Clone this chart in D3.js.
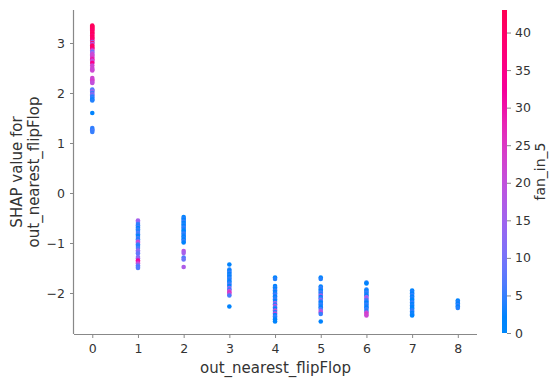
<!DOCTYPE html>
<html>
<head>
<meta charset="utf-8">
<script src="https://cdn.jsdelivr.net/npm/d3@7"></script>
<style>
  html, body { margin: 0; padding: 0; background: #fff; }
  svg { display: block; }
  text { font-family: "DejaVu Sans", sans-serif; }
</style>
</head>
<body>
<svg id="chart" width="549" height="383"></svg>
<script>
// ---- Data ----
const xTicks = [0, 1, 2, 3, 4, 5, 6, 7, 8];
const yTicks = [-2, -1, 0, 1, 2, 3];
const colorTicks = [0, 5, 10, 15, 20, 25, 30, 35, 40];

// SHAP values and fan_in_5 per feature value
const shap0 = [3.35,3.33,3.31,3.29,3.27,3.25,3.22,3.2,3.18,3.15,3.12,3.1,3.08,3.05,3.02,3.0,2.98,2.95,2.92,2.9,2.88,2.85,2.82,2.8,2.77,2.75,2.72,2.7,2.67,2.65,2.62,2.6,2.55,2.5,2.47,2.45,2.3,2.27,2.25,2.22,2.2,2.07,2.05,2.03,2.0,1.97,1.95,1.92,1.9,1.87,1.85,1.6,1.3,1.27,1.25,1.22];
const fan0  = [42,41,43,40,42,39,41,40,42,38,41,40,39,37,12,40,18,40,39,41,36,20,8,16,23,21,22,24,33,21,23,35,22,23,21,22,23,21,24,22,20,6,8,15,5,18,7,4,5,3,4,2,5,4,6,5];

const shap1 = [-0.55,-0.58,-0.62,-0.65,-0.68,-0.7,-0.73,-0.76,-0.8,-0.83,-0.86,-0.9,-0.93,-0.96,-0.98,-1.0,-1.03,-1.06,-1.1,-1.15,-1.18,-1.21,-1.28,-1.31,-1.35,-1.38,-1.41,-1.45,-1.48,-1.5];
const fan1  = [16,14,5,4,6,3,5,4,7,5,3,6,4,9,22,20,5,4,6,14,12,8,10,14,32,30,20,8,6,7];

const shap2 = [-0.48,-0.51,-0.54,-0.57,-0.6,-0.63,-0.66,-0.69,-0.72,-0.75,-0.78,-0.81,-0.84,-0.87,-0.9,-0.93,-0.96,-0.99,-1.16,-1.2,-1.29,-1.33,-1.48];
const fan2  = [3,4,3,5,2,4,3,5,4,2,3,5,4,3,4,2,5,3,18,16,7,9,17];

const shap3 = [-1.43,-1.53,-1.56,-1.59,-1.62,-1.65,-1.68,-1.71,-1.74,-1.77,-1.8,-1.83,-1.86,-1.9,-1.93,-1.96,-1.99,-2.02,-2.05,-2.27];
const fan3  = [3,4,3,5,2,4,3,5,4,3,4,6,3,14,5,20,26,22,6,3];

const shap4 = [-1.69,-1.72,-1.86,-1.89,-1.92,-1.95,-1.98,-2.01,-2.04,-2.07,-2.1,-2.13,-2.16,-2.2,-2.23,-2.26,-2.29,-2.32,-2.35,-2.38,-2.41,-2.44,-2.47,-2.5,-2.53,-2.57];
const fan4  = [3,4,3,4,2,5,3,4,6,3,4,5,3,16,4,21,5,3,19,4,22,3,5,4,3,2];

const shap5 = [-1.69,-1.72,-1.87,-1.9,-1.93,-1.96,-1.99,-2.02,-2.05,-2.08,-2.11,-2.14,-2.17,-2.2,-2.23,-2.26,-2.29,-2.32,-2.36,-2.39,-2.42,-2.57];
const fan5  = [3,4,3,5,4,3,6,4,18,3,5,14,4,3,5,4,3,6,17,20,5,3];

const shap6 = [-1.79,-1.81,-1.93,-1.96,-1.99,-2.02,-2.05,-2.08,-2.11,-2.14,-2.17,-2.2,-2.23,-2.26,-2.29,-2.32,-2.36,-2.39,-2.42,-2.45];
const fan6  = [4,3,4,3,5,4,3,14,17,6,4,3,5,4,3,5,4,21,24,22];

const shap7 = [-1.95,-1.98,-2.01,-2.04,-2.07,-2.1,-2.13,-2.16,-2.19,-2.22,-2.25,-2.28,-2.31,-2.34,-2.37,-2.4,-2.43,-2.45];
const fan7  = [3,4,2,5,3,4,3,2,5,3,4,3,2,4,5,3,4,3];

const shap8 = [-2.15,-2.18,-2.21,-2.24,-2.27,-2.3];
const fan8  = [3,4,2,5,3,4];

const shapByX = [shap0, shap1, shap2, shap3, shap4, shap5, shap6, shap7, shap8];
const fanByX  = [fan0, fan1, fan2, fan3, fan4, fan5, fan6, fan7, fan8];

const xLabel = "out_nearest_flipFlop";
const yLabel1 = "SHAP value for";
const yLabel2 = "out_nearest_flipFlop";
const colorLabel = "fan_in_5";

(function () {
// ---- Build point table ----
const points = [];
xTicks.forEach((xv, i) => {
  shapByX[i].forEach((s, j) => points.push({ x: xv, y: s, c: fanByX[i][j] }));
});

// ---- Layout ----
const svg = d3.select("#chart");
const pLeft = 74, pRight = 477, pTop = 10, pBottom = 334;

const x = d3.scaleLinear().domain([-0.4, 8.42]).range([pLeft, pRight]);
const y = d3.scaleLinear().domain([-2.82, 3.66]).range([pBottom, pTop]);

// SHAP-like red_blue colormap (constant lightness, hue sweep in HCL)
const colorInterp = d3.interpolateHcl(d3.hcl(267, 70, 54), d3.hcl(380, 90, 54));
const cScale = d3.scaleLinear().domain([0, 43]).range([0, 1]).clamp(true);
const color = v => colorInterp(cScale(v));

const tickColor = "#333";
const spineColor = "#888";
const tickFont = "12.5px";

// ---- Points ----
svg.append("g").selectAll("circle").data(points).join("circle")
  .attr("cx", d => x(d.x))
  .attr("cy", d => y(d.y))
  .attr("r", 2.3)
  .attr("fill", d => color(d.c));

// ---- Axes ----
const xAxis = svg.append("g").attr("transform", `translate(0,${pBottom})`)
  .call(d3.axisBottom(x).tickValues(xTicks).tickSize(4).tickPadding(6).tickFormat(d3.format("d")));
const yAxis = svg.append("g").attr("transform", `translate(${pLeft},0)`)
  .call(d3.axisLeft(y).tickValues(yTicks).tickSize(4).tickPadding(5).tickFormat(d => d < 0 ? "\u2212" + Math.abs(d) : d));

[xAxis, yAxis].forEach(a => {
  a.select(".domain").attr("stroke", spineColor).attr("stroke-width", 1.2);
  a.selectAll(".tick line").attr("stroke", spineColor);
  a.selectAll(".tick text").attr("fill", tickColor).style("font-size", tickFont).style("font-family", "DejaVu Sans");
});
xAxis.select(".domain").attr("d", `M${pLeft},0.5H${pRight}`);
yAxis.select(".domain").attr("d", `M-0.5,${pTop}V${pBottom}`);

// ---- Axis labels ----
svg.append("text")
  .attr("x", (pLeft + pRight) / 2).attr("y", 373)
  .attr("text-anchor", "middle").attr("fill", tickColor)
  .style("font-size", "15px").text(xLabel);

const yc = (pTop + pBottom) / 2;
svg.append("text")
  .attr("transform", `translate(22,${yc}) rotate(-90)`)
  .attr("text-anchor", "middle").attr("fill", tickColor)
  .style("font-size", "15px").text(yLabel1);
svg.append("text")
  .attr("transform", `translate(39,${yc}) rotate(-90)`)
  .attr("text-anchor", "middle").attr("fill", tickColor)
  .style("font-size", "15px").text(yLabel2);

// ---- Colorbar ----
const cbX = 502, cbW = 5, cbTop = 10, cbBottom = 333;
const cbY = d3.scaleLinear().domain([0, 43]).range([cbBottom, cbTop]);
const defs = svg.append("defs");
const grad = defs.append("linearGradient").attr("id", "cbgrad")
  .attr("x1", 0).attr("y1", 1).attr("x2", 0).attr("y2", 0);
d3.range(0, 1.0001, 0.05).forEach(t => {
  grad.append("stop").attr("offset", t).attr("stop-color", colorInterp(t));
});
svg.append("rect").attr("x", cbX).attr("y", cbTop).attr("width", cbW)
  .attr("height", cbBottom - cbTop).attr("fill", "url(#cbgrad)");

const cAxis = svg.append("g").attr("transform", `translate(${cbX + cbW},0)`)
  .call(d3.axisRight(cbY).tickValues(colorTicks).tickSize(4).tickPadding(4));
cAxis.select(".domain").remove();
cAxis.selectAll(".tick line").attr("stroke", spineColor);
cAxis.selectAll(".tick text").attr("fill", tickColor).style("font-size", tickFont).style("font-family", "DejaVu Sans");

svg.append("text")
  .attr("transform", `translate(545,${(cbTop + cbBottom) / 2}) rotate(-90)`)
  .attr("text-anchor", "middle").attr("fill", tickColor)
  .style("font-size", "14px").text(colorLabel);
})();
</script>
</body>
</html>
